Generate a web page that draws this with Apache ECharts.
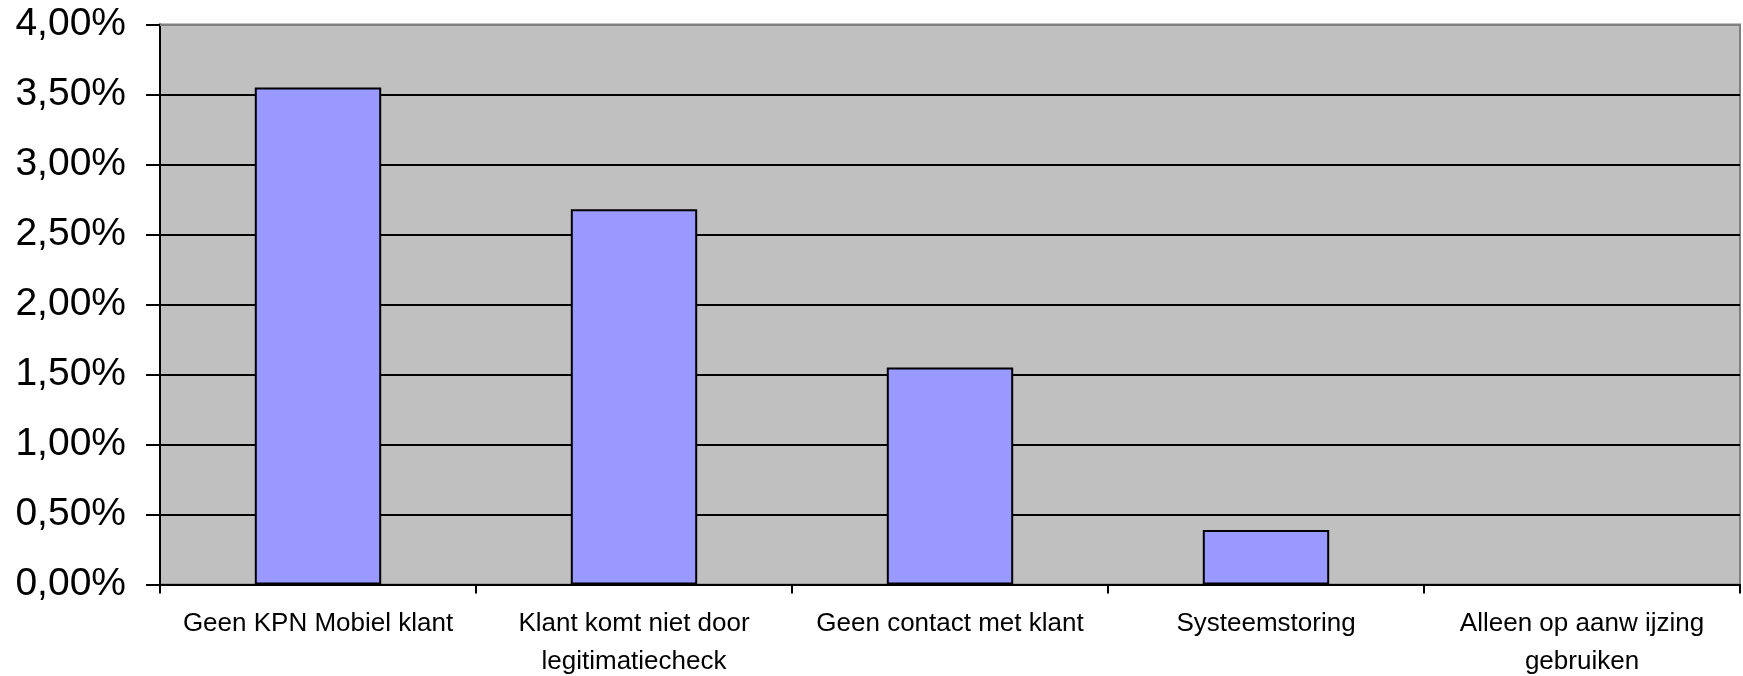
<!DOCTYPE html>
<html>
<head>
<meta charset="utf-8">
<title>Redenen</title>
<script src="https://cdn.jsdelivr.net/npm/echarts@6/dist/echarts.min.js"></script>
<style>
  html, body { margin: 0; padding: 0; background: #ffffff; }
  #chart { width: 1743px; height: 676px; }
</style>
</head>
<body>
<div id="chart"></div>
<script>
// Categories along the x axis (line breaks as shown under the bars)
const categories = [
  'Geen KPN Mobiel klant',
  'Klant komt niet door\nlegitimatiecheck',
  'Geen contact met klant',
  'Systeemstoring',
  'Alleen op aanw ijzing\ngebruiken'
];

// Share per reason, in percent
const shares = [3.55, 2.68, 1.55, 0.39, 0];

// Value axis range and step, in percent
const yMin = 0;
const yMax = 4;
const yStep = 0.5;

const fontFamily = 'Arial, "Liberation Sans", sans-serif';

// A zero-height bar gets no outline, so nothing shows on the baseline
const barData = shares.map(v => v === 0
  ? { value: v, itemStyle: { borderWidth: 0 } }
  : v);

const chart = echarts.init(document.getElementById('chart'), null, { renderer: 'canvas' });

chart.setOption({
  animation: false,
  backgroundColor: '#ffffff',
  grid: {
    left: 160,
    right: 3,
    top: 24.5,
    bottom: 91.5,
    containLabel: false,
    outerBoundsMode: 'none',
    show: true,
    backgroundColor: '#C0C0C0',
    borderColor: '#808080',
    borderWidth: 2
  },
  xAxis: {
    type: 'category',
    data: categories,
    boundaryGap: true,
    axisLine: { show: true, lineStyle: { color: '#000000', width: 2 } },
    axisTick: { show: true, length: 9, inside: false, lineStyle: { color: '#000000', width: 2 } },
    axisLabel: {
      interval: 0,
      margin: 20,
      color: '#000000',
      fontFamily: fontFamily,
      fontSize: 26,
      lineHeight: 38,
      align: 'center'
    },
    splitLine: { show: false }
  },
  yAxis: {
    type: 'value',
    min: yMin,
    max: yMax,
    interval: yStep,
    axisLine: { show: true, lineStyle: { color: '#000000', width: 2 } },
    axisTick: { show: true, length: 14, inside: false, lineStyle: { color: '#000000', width: 2 } },
    axisLabel: {
      margin: 34,
      color: '#000000',
      fontFamily: fontFamily,
      fontSize: 39,
      formatter: v => v.toFixed(2).replace('.', ',') + '%'
    },
    splitLine: {
      show: true,
      lineStyle: { color: '#000000', width: 2 }
    }
  },
  series: [{
    type: 'bar',
    data: barData,
    barWidth: '40%',
    itemStyle: {
      color: '#9999FF',
      borderColor: '#000000',
      borderWidth: 2
    },
    emphasis: { disabled: true },
    // Top edge of the plot frame stays grey
    markLine: {
      silent: true,
      symbol: 'none',
      label: { show: false },
      lineStyle: { color: '#808080', width: 2, type: 'solid' },
      data: [{ yAxis: yMax }]
    }
  }]
});
</script>
</body>
</html>
